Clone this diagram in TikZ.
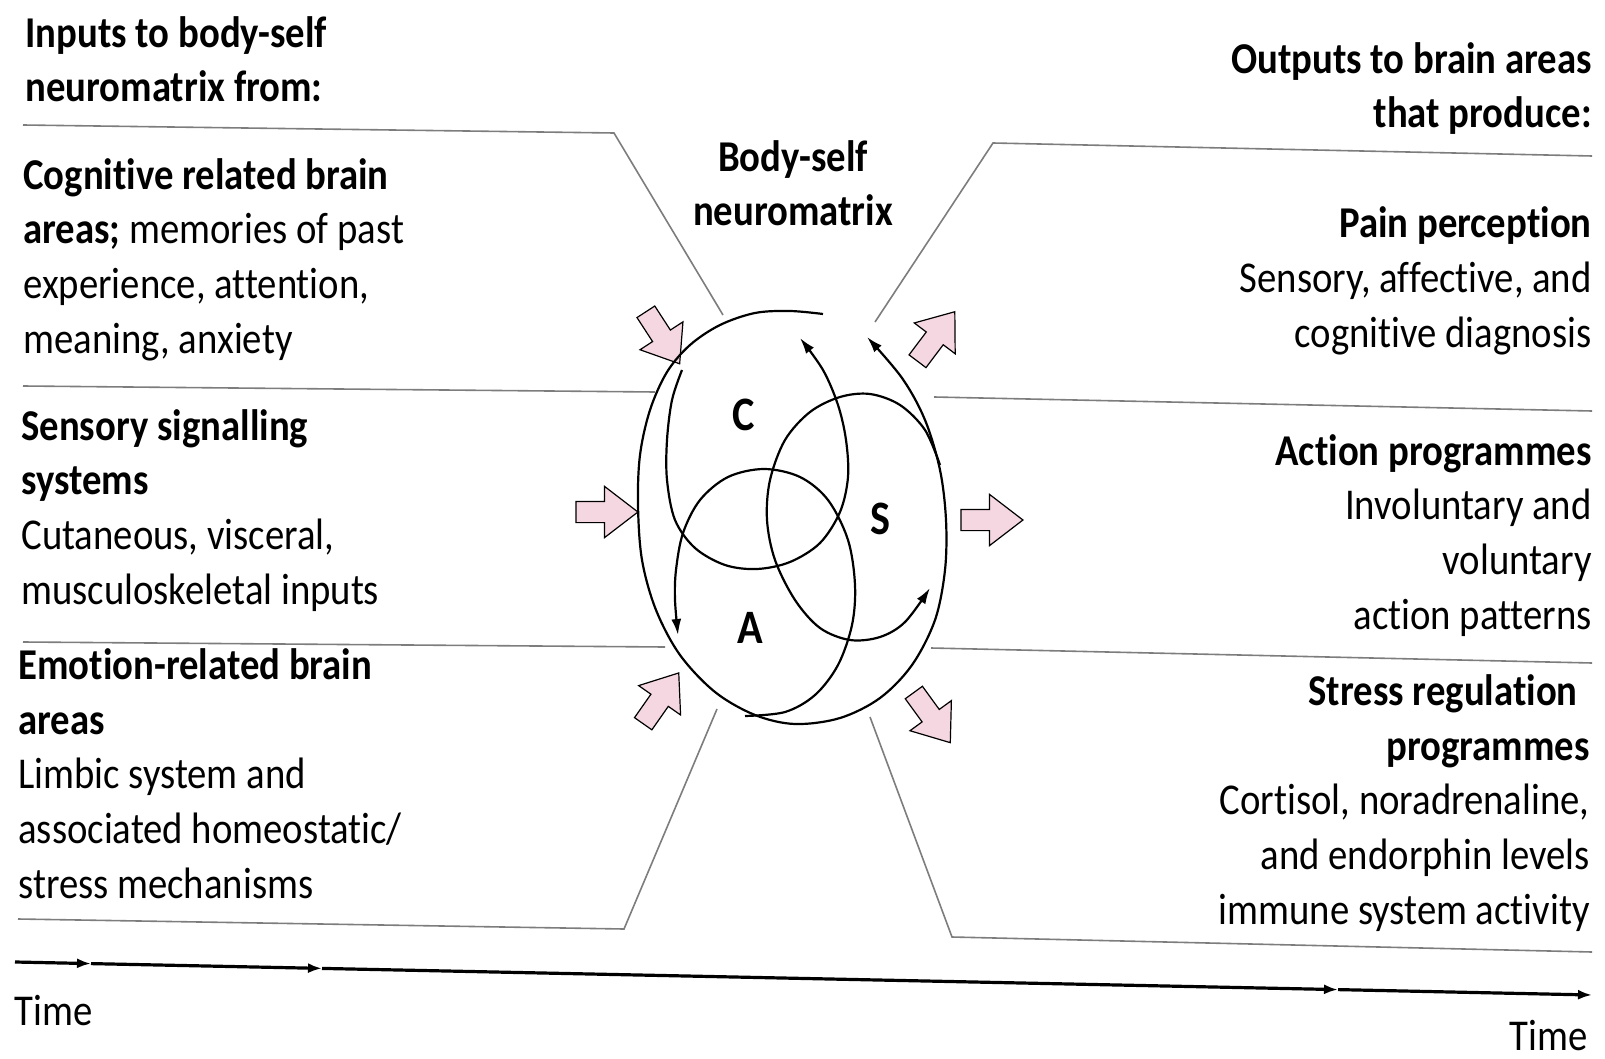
\documentclass[tikz,border=0pt]{standalone}
\usepackage{fontspec}
\setmainfont{Carlito}[FakeStretch=0.88,Ligatures=NoCommon]
\usetikzlibrary{arrows.meta,shapes.arrows}
\definecolor{cpink}{RGB}{245,215,226}
\definecolor{cgrey}{RGB}{125,125,125}
\tikzset{
  nmfig/.style={x=0.5pt,y=-0.5pt},
  bodytxt/.style={font=\fontsize{22}{27.3}\selectfont},
  headtxt/.style={font=\fontsize{22}{27.3}\selectfont\bfseries},
  txtl/.style={anchor=base west,align=left,inner sep=0pt},
  txtr/.style={anchor=base east,align=right,inner sep=0pt},
  sepline/.style={cgrey,line width=0.8pt},
  blockarr/.style={single arrow,draw=black,fill=cpink,line width=0.6pt,
    minimum height=31pt,minimum width=25pt,inner sep=5pt,
    single arrow head extend=7.5pt,single arrow tip angle=75},
  loopline/.style={line width=1.1pt,-{Latex[length=8pt,width=5pt]}},
  tline/.style={line width=1.6pt,-{Latex[length=7pt,width=5pt]}}
}

\begin{document}
\begin{tikzpicture}[nmfig]
    \useasboundingbox (0,0) rectangle (1605,1059);
    % left column (base = last line)
    \node[txtl,headtxt] (inhead) at (25,102) {Inputs to body-self\\neuromatrix from:};
    \node[txtl,bodytxt] (cog) at (23,353)
      {\textbf{Cognitive related brain}\\\textbf{areas;} memories of past\\experience, attention,\\meaning, anxiety};
    \node[txtl,bodytxt] (sens) at (21,604)
      {\textbf{Sensory signalling}\\\textbf{systems}\\Cutaneous, visceral,\\musculoskeletal inputs};
    \node[txtl,bodytxt] (emo) at (18,898)
      {\textbf{Emotion-related brain}\\\textbf{areas}\\Limbic system and\\associated homeostatic/\\stress mechanisms};
    % right column
    \node[txtr,headtxt] (outhead) at (1592,128) {Outputs to brain areas\\that produce:};
    \node[txtr,bodytxt] (pain) at (1592,347)
      {\textbf{Pain perception}\\Sensory, affective, and\\cognitive diagnosis};
    \node[txtr,bodytxt] (action) at (1592,629)
      {\textbf{Action programmes}\\Involuntary and\\voluntary\\action patterns};
    \node[txtr,bodytxt] (stress) at (1590,924)
      {\textbf{Stress regulation}\kern6pt\\\textbf{programmes}\\Cortisol, noradrenaline,\\and endorphin levels\\immune system activity};
    % centre
    \node[anchor=base,align=center,inner sep=0pt,headtxt] (nmx) at (793,226) {Body-self\\neuromatrix};
    \node[headtxt,font=\fontsize{24}{28}\selectfont\bfseries] (cc) at (744,415) {C};
    \node[headtxt,font=\fontsize{24}{28}\selectfont\bfseries] (ss) at (880,519) {S};
    \node[headtxt,font=\fontsize{24}{28}\selectfont\bfseries] (aa) at (750,628) {A};
    % separators
    \draw[sepline] (23,125) -- (614,133) -- (723,315);
    \draw[sepline] (23,386) -- (655,392);
    \draw[sepline] (23,642) -- (665,647);
    \draw[sepline] (18,919) -- (624,929) -- (717,709);
    \draw[sepline] (1592,156) -- (993,143) -- (875,322);
    \draw[sepline] (934,397) -- (1592,411);
    \draw[sepline] (931,648) -- (1592,663);
    \draw[sepline] (870,717) -- (952,937) -- (1592,952);
    % in and out arrows
    \node[blockarr,rotate=-57] (in1) at (659,332) {};
    \node[blockarr] (in2) at (600,512) {};
    \node[blockarr,rotate=55] (in3) at (657,704) {};
    \node[blockarr,rotate=53] (out1) at (932,342) {};
    \node[blockarr] (out2) at (985,520) {};
    \node[blockarr,rotate=-54] (out3) at (928,712) {};
    % loops
    \draw[loopline] plot[smooth,tension=0.55] coordinates {(823,314) (790,311) (755,313) (720,325)
      (690,345) (667,372) (650,410) (640,455) (638,505) (642,560) (656,610) (680,655) (715,692)
      (755,715) (795,724) (840,718) (880,698) (912,665) (935,620) (945,570) (946,520) (940,470)
      (925,420) (902,378) (867,337)};
    \draw[loopline] plot[smooth,tension=0.55] coordinates {(682,370) (672,400) (667,440) (667,480)
      (675,520) (695,548) (725,565) (757,569) (790,562) (820,543) (840,512) (848,477) (846,440)
      (838,405) (823,370) (800,338)};
    \draw[loopline] plot[smooth,tension=0.55] coordinates {(940,465) (925,430) (900,405) (870,394)
      (840,397) (810,412) (785,440) (770,480) (767,520) (775,560) (795,600) (820,628) (850,640)
      (880,637) (905,622) (930,588)};
    \draw[loopline] plot[smooth,tension=0.55] coordinates {(745,716) (785,712) (815,695) (838,665)
      (852,625) (855,585) (848,540) (828,500) (800,477) (764,469) (728,477) (700,500) (683,533)
      (676,570) (675,600) (678,635)};
    % time axis
    \coordinate (t0) at (15,962);
    \coordinate (t1) at (91,963.6);
    \coordinate (t2) at (322,968.4);
    \coordinate (t3) at (1338,989.6);
    \coordinate (t4) at (1592,995);
    \draw[tline] (t0) -- (t1);
    \draw[tline] (t1) -- (t2);
    \draw[tline] (t2) -- (t3);
    \draw[tline] (t3) -- (t4);
    \node[bodytxt,anchor=base west,inner sep=0pt] (time1) at (14,1025) {Time};
    \node[bodytxt,anchor=base east,inner sep=0pt] (time2) at (1588,1050) {Time};
\end{tikzpicture}
\end{document}
